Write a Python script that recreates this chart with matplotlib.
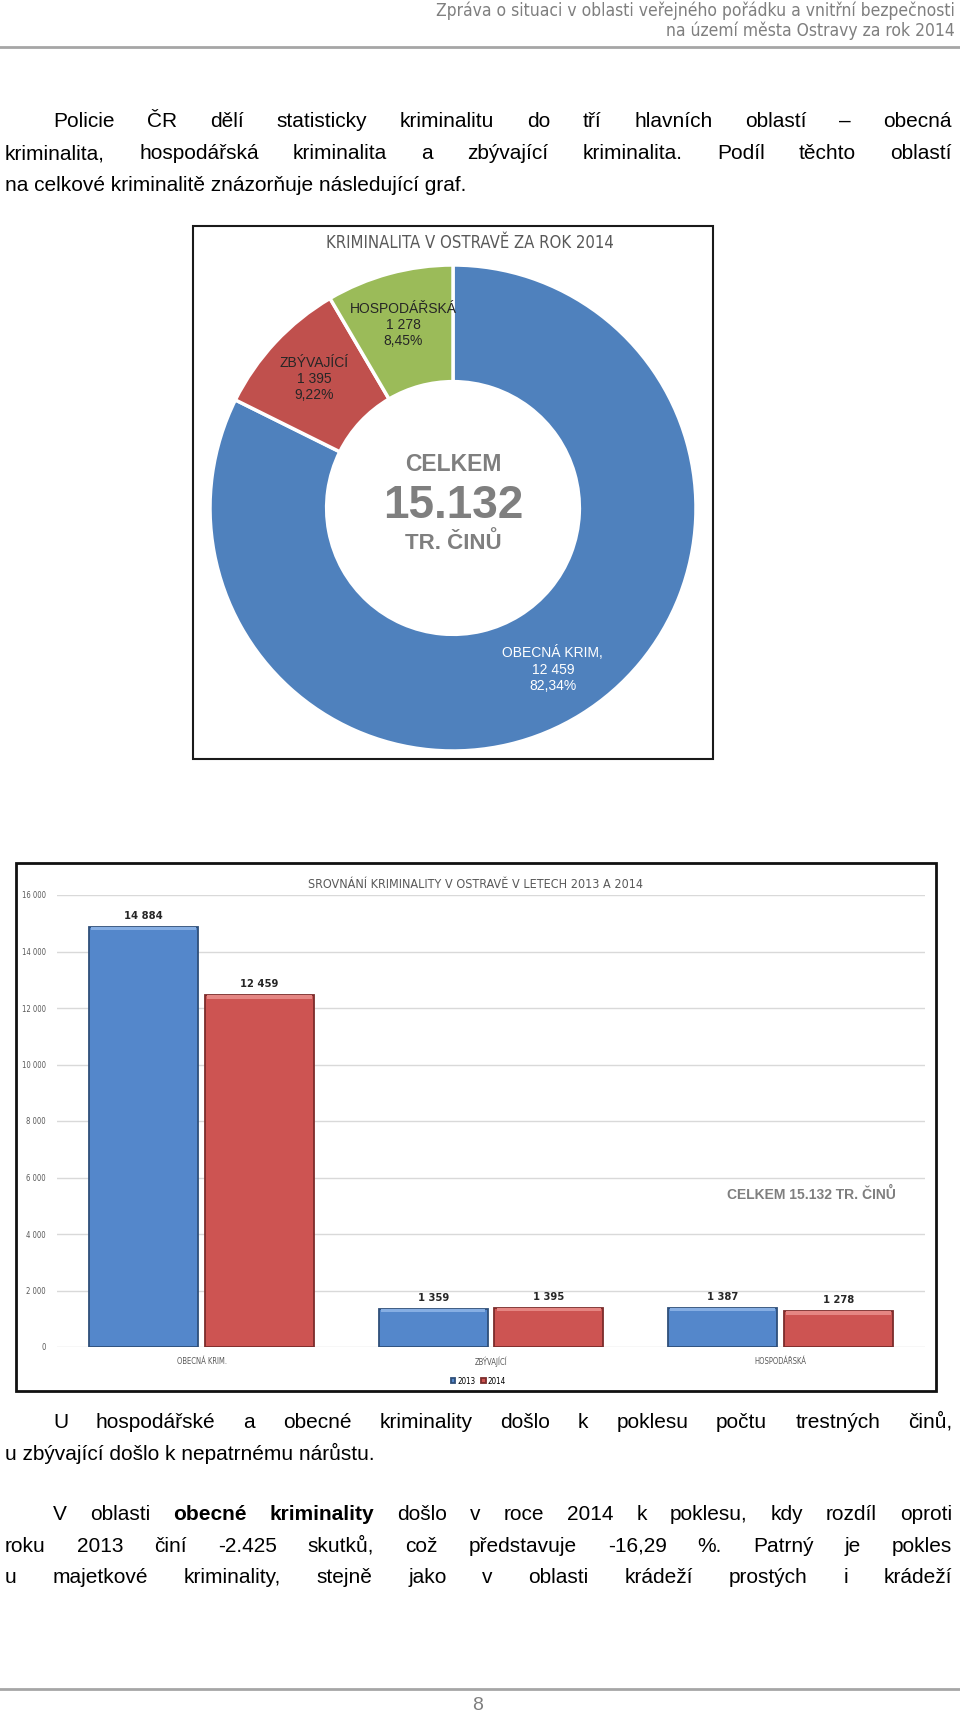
import matplotlib
matplotlib.use('Agg')
import matplotlib.pyplot as plt
from matplotlib.patches import Rectangle
from matplotlib.lines import Line2D
import numpy as np

W, H = 960, 1714

# donut chart data (2014)
pie_labels = ['OBECNÁ KRIM.', 'ZBÝVAJÍCÍ', 'HOSPODÁŘSKÁ']
pie_values = [12459, 1395, 1278]
pie_colors = ['#4F81BD', '#C0504D', '#9BBB59']
pie_text_colors = ['white', '#262626', '#262626']

# bar chart data
bar_categories = ['OBECNÁ KRIM.', 'ZBÝVAJÍCÍ', 'HOSPODÁŘSKÁ']
values_2013 = [14884, 1359, 1387]
values_2014 = [12459, 1395, 1278]
years = ['2013', '2014']
bar_colors = ['#5487CB', '#CD5452']
bar_tops = ['#86AEE3', '#E58683']
bar_edges = ['#2F4F7A', '#7C2C2B']
y_ticks = [0, 2000, 4000, 6000, 8000, 10000, 12000, 14000, 16000]

total = sum(pie_values)

NARROW = dict(family=['Liberation Sans Narrow', 'DejaVu Sans'], fontstretch='condensed')
plt.rcParams['font.family'] = ['Liberation Sans', 'DejaVu Sans']


def fx(x):
    return x / W


def fy(y):
    return 1 - y / H


def thousands(v, sep=' '):
    return f'{v:,}'.replace(',', sep)


fig = plt.figure(figsize=(W / 100, H / 100), dpi=100)
renderer = fig.canvas.get_renderer()

# page header
fig.text(fx(955), fy(11), 'Zpráva o situaci v oblasti veřejného pořádku a vnitřní bezpečnosti',
         ha='right', va='center', color='#7f7f7f', fontsize=12.5, **NARROW)
fig.text(fx(955), fy(31), 'na území města Ostravy za rok 2014',
         ha='right', va='center', color='#7f7f7f', fontsize=12.5, **NARROW)
fig.add_artist(Line2D([0, 1], [fy(47), fy(47)], color='#a6a6a6', lw=2, transform=fig.transFigure))

# body text, justified line by line
FS = 15
LEFT, RIGHT = 5, 952


def text_line(y, words, indent=0, justify=True):
    base = fy(y + 5)
    x0 = LEFT + indent
    if not justify:
        fig.text(fx(x0), base, ' '.join(w for w, _ in words), fontsize=FS, va='baseline', color='black')
        return
    texts = []
    for w, weight in words:
        t = fig.text(0, base, w, fontsize=FS, va='baseline', fontweight=weight, color='black')
        texts.append(t)
    widths = [t.get_window_extent(renderer).width for t in texts]
    gap = (RIGHT - x0 - sum(widths)) / (len(texts) - 1)
    x = x0
    for t, wd in zip(texts, widths):
        t.set_x(fx(x))
        x += wd + gap


def plain(s):
    return [(w, 'normal') for w in s.split()]


text_line(122, plain('Policie ČR dělí statisticky kriminalitu do tří hlavních oblastí – obecná'), indent=48)
text_line(154, plain('kriminalita, hospodářská kriminalita a zbývající kriminalita. Podíl těchto oblastí'))
text_line(186, plain('na celkové kriminalitě znázorňuje následující graf.'), justify=False)

text_line(1423, plain('U hospodářské a obecné kriminality došlo k poklesu počtu trestných činů,'), indent=48)
text_line(1455, plain('u zbývající došlo k nepatrnému nárůstu.'), justify=False)

text_line(1515, plain('V oblasti') + [('obecné', 'bold'), ('kriminality', 'bold')]
          + plain('došlo v roce 2014 k poklesu, kdy rozdíl oproti'), indent=48)
text_line(1547, plain('roku 2013 činí -2.425 skutků, což představuje -16,29 %. Patrný je pokles'))
text_line(1578, plain('u majetkové kriminality, stejně jako v oblasti krádeží prostých i krádeží'))

# ---- donut chart ----
fig.add_artist(Rectangle((fx(193), fy(759)), (713 - 193) / W, (759 - 226) / H, fill=False,
                         edgecolor='#1a1a1a', lw=1.5, transform=fig.transFigure))
fig.text(fx(470), fy(243), 'KRIMINALITA V OSTRAVĚ ZA ROK 2014', ha='center', va='center',
         color='#595959', fontsize=12, **NARROW)

R = 243
ax1 = fig.add_axes([fx(453 - R), fy(508 + R), 2 * R / W, 2 * R / H])
label_texts = [f'{lab}\n{thousands(v)}\n{v / total * 100:.2f}%'.replace('.', ',')
               for lab, v in zip(pie_labels, pie_values)]
wedges, texts = ax1.pie(pie_values, colors=pie_colors, startangle=90, counterclock=False,
                        labels=label_texts, labeldistance=0.78,
                        wedgeprops=dict(width=0.48, edgecolor='white', linewidth=2.5),
                        textprops=dict(fontsize=10))
for t, c in zip(texts, pie_text_colors):
    t.set_ha('center')
    t.set_va('center')
    t.set_multialignment('center')
    t.set_color(c)
ax1.text(0, 0.178, 'CELKEM', ha='center', va='center', fontsize=16.5, fontweight='bold', color='#7f7f7f')
ax1.text(0, 0.01, f'{total:,}'.replace(',', '.'), ha='center', va='center', fontsize=33,
         fontweight='bold', color='#7f7f7f')
ax1.text(0, -0.143, 'TR. ČINŮ', ha='center', va='center', fontsize=16, fontweight='bold', color='#7f7f7f')
ax1.set_xlim(-1, 1)
ax1.set_ylim(-1, 1)
ax1.set_aspect('equal')
ax1.axis('off')

# ---- bar chart ----
fig.add_artist(Rectangle((fx(16), fy(1391)), (936 - 16) / W, (1391 - 863) / H, fill=False,
                         edgecolor='#111111', lw=2, transform=fig.transFigure))
fig.text(fx(476), fy(885), 'SROVNÁNÍ KRIMINALITY V OSTRAVĚ V LETECH 2013 A 2014', ha='center',
         va='center', color='#595959', fontsize=9, **NARROW)

ax2 = fig.add_axes([fx(57), fy(1347), 868 / W, 452 / H])
x = np.arange(len(bar_categories))
bw = 0.377
strip = 130  # light bevel at the top of each bar, in data units
handles = []
for i, (vals, col, top, edge) in enumerate(zip([values_2013, values_2014], bar_colors, bar_tops, bar_edges)):
    off = (i - 0.5) * 0.4
    bars = ax2.bar(x + off, vals, width=bw, color=col, edgecolor=edge, linewidth=1.3, zorder=3)
    ax2.bar(x + off, strip, bottom=np.array(vals) - strip, width=bw * 0.96, color=top,
            linewidth=0, zorder=4)
    ax2.bar_label(bars, labels=[thousands(v) for v in vals], padding=4, fontsize=8,
                  fontweight='bold', color='#262626', **NARROW)
    handles.append(bars)

ax2.set_xlim(-0.5, 2.5)
ax2.set_ylim(0, 16000)
ax2.set_yticks(y_ticks, [thousands(v) for v in y_ticks])
ax2.set_xticks(x, bar_categories)
ax2.tick_params(axis='both', length=0, labelsize=5.5, labelcolor='#595959')
ax2.tick_params(axis='y', pad=8)
ax2.tick_params(axis='x', pad=7)
ax2.grid(axis='y', color='#d9d9d9', lw=1, zorder=0)
for s in ax2.spines.values():
    s.set_visible(False)
for lab in ax2.get_xticklabels() + ax2.get_yticklabels():
    lab.set_family(NARROW['family'])
    lab.set_stretch('condensed')

leg = ax2.legend(handles, years, loc='center', bbox_to_anchor=(fx(478), fy(1381)),
                 bbox_transform=fig.transFigure, ncol=2, frameon=False,
                 handlelength=0.6, handleheight=0.6, handletextpad=0.2, columnspacing=0.7,
                 prop=dict(family=NARROW['family'], stretch='condensed', size=5.8))

fig.text(fx(811), fy(1194), f'CELKEM {total:,} TR. ČINŮ'.replace(',', '.'), ha='center', va='center',
         fontsize=10, fontweight='bold', color='#7f7f7f')

# page footer
fig.add_artist(Line2D([0, 1], [fy(1689), fy(1689)], color='#a6a6a6', lw=2, transform=fig.transFigure))
fig.text(fx(478), fy(1705), '8', ha='center', va='center', fontsize=14, color='#7f7f7f')

fig.savefig('out.png', dpi=100)
